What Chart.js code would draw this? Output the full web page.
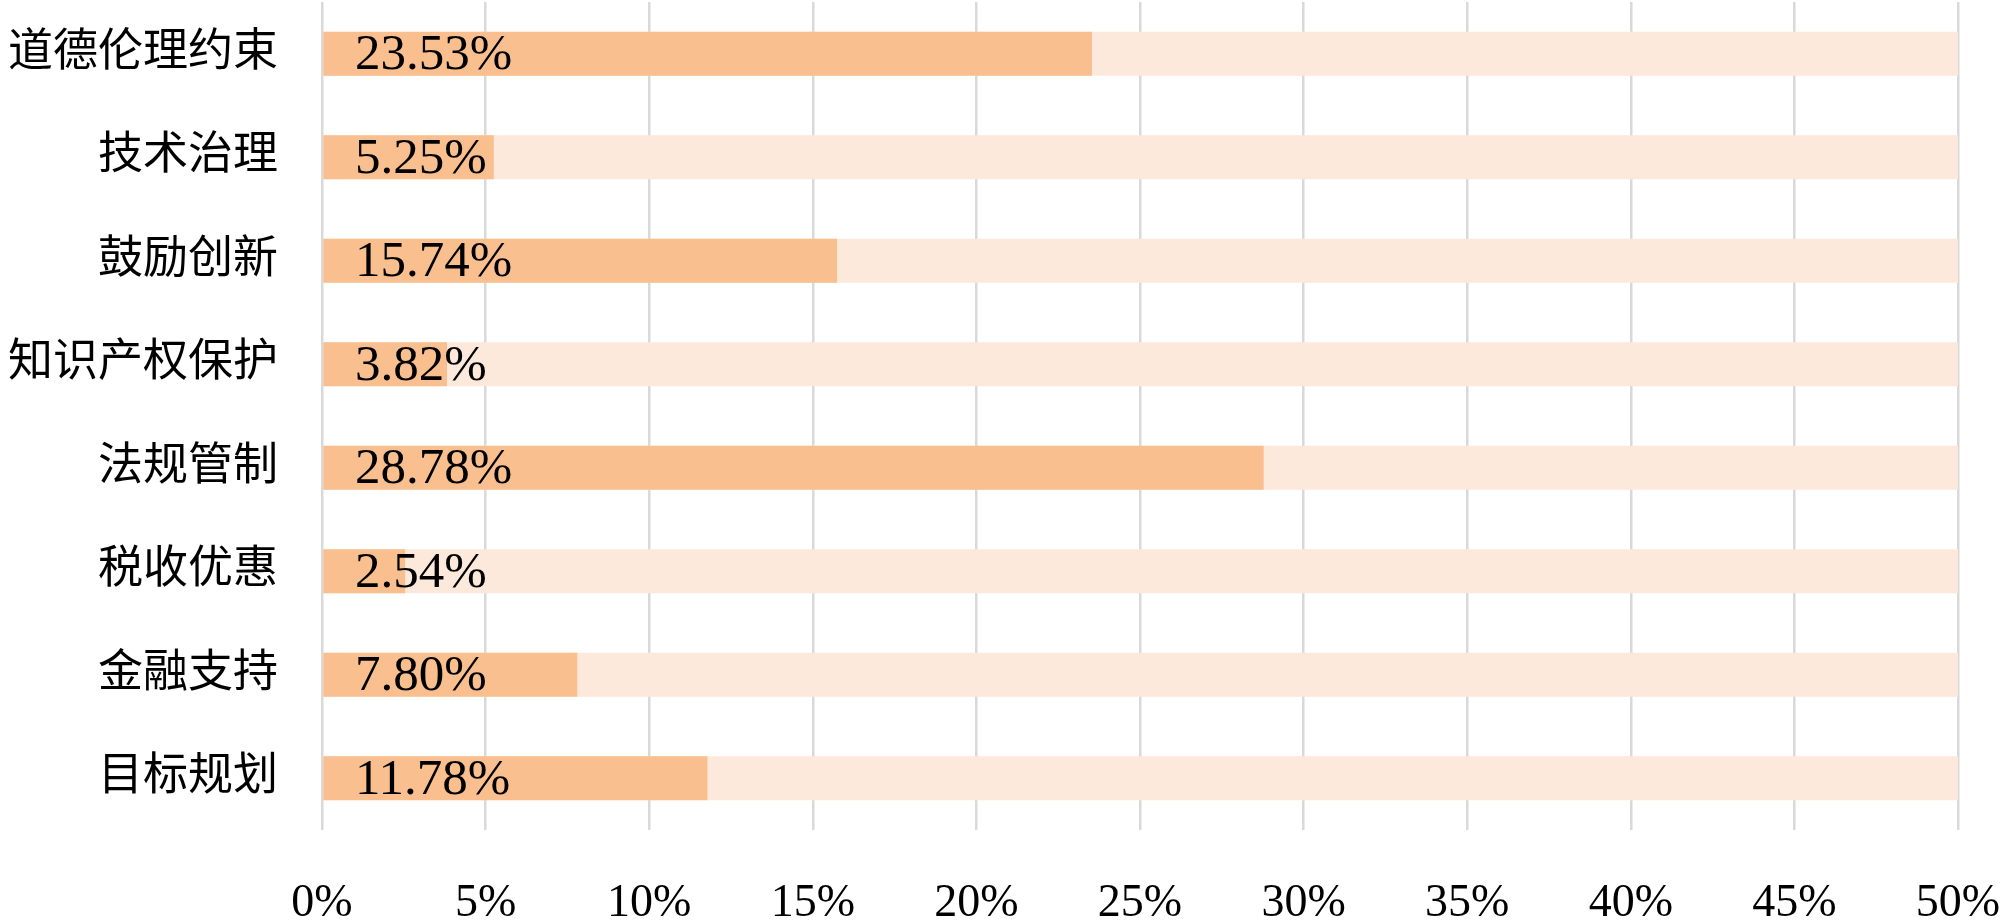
<!DOCTYPE html>
<html>
<head>
<meta charset="utf-8">
<script src="https://cdn.jsdelivr.net/npm/chart.js@4/dist/chart.umd.min.js"></script>
<style>
  html, body { margin: 0; padding: 0; background: #ffffff; }
  #wrap { width: 2000px; height: 924px; }
</style>
</head>
<body>
<div id="wrap"><canvas id="c" width="2000" height="924"></canvas></div>
<script>
const categories = ['道德伦理约束', '技术治理', '鼓励创新', '知识产权保护', '法规管制', '税收优惠', '金融支持', '目标规划'];
const shareValues = [23.53, 5.25, 15.74, 3.82, 28.78, 2.54, 7.80, 11.78];
const trackValues = [50, 50, 50, 50, 50, 50, 50, 50];
const tickValues = [0, 5, 10, 15, 20, 25, 30, 35, 40, 45, 50];

const SERIF = '"Liberation Serif", "Times New Roman", "Noto Sans CJK SC", serif';

const valueLabels = {
  id: 'valueLabels',
  afterDatasetsDraw(chart) {
    const ctx = chart.ctx;
    const meta = chart.getDatasetMeta(1);
    const x0 = chart.scales.x.getPixelForValue(0);
    ctx.save();
    ctx.font = '51px ' + SERIF;
    ctx.fillStyle = '#000000';
    ctx.textAlign = 'left';
    ctx.textBaseline = 'middle';
    meta.data.forEach((bar, i) => {
      ctx.fillText(shareValues[i].toFixed(2) + '%', x0 + 33, bar.y + 2);
    });
    ctx.restore();
  }
};

function zeroPad(scale) {
  scale.paddingTop = 0;
  scale.paddingBottom = 0;
  scale.paddingLeft = 0;
  scale.paddingRight = 0;
}

new Chart(document.getElementById('c'), {
  type: 'bar',
  data: {
    labels: categories,
    datasets: [
      {
        label: 'track',
        data: trackValues,
        backgroundColor: '#FDE9DB',
        borderWidth: 0,
        grouped: false,
        order: 2,
        barPercentage: 0.425,
        categoryPercentage: 1.0
      },
      {
        label: 'share',
        data: shareValues,
        backgroundColor: '#F9BF8F',
        borderWidth: 0,
        grouped: false,
        order: 1,
        barPercentage: 0.425,
        categoryPercentage: 1.0
      }
    ]
  },
  options: {
    indexAxis: 'y',
    responsive: false,
    animation: false,
    devicePixelRatio: 1,
    layout: { padding: { top: 2, right: 42, left: 0, bottom: 0 } },
    plugins: {
      legend: { display: false },
      tooltip: { enabled: false }
    },
    scales: {
      x: {
        min: 0,
        max: 50,
        afterBuildTicks(scale) {
          scale.ticks = tickValues.map(v => ({ value: v }));
        },
        afterFit(scale) { scale.height = 94; zeroPad(scale); },
        grid: {
          color: '#D9D9D9',
          lineWidth: 2.5,
          drawTicks: false
        },
        border: { display: false },
        ticks: {
          padding: 46,
          color: '#000000',
          font: { family: SERIF, size: 46 },
          maxRotation: 0,
          autoSkip: false,
          callback: (v) => v + '%'
        }
      },
      y: {
        afterFit(scale) { scale.width = 322; zeroPad(scale); },
        grid: { display: false, drawTicks: false },
        border: { display: false },
        ticks: {
          padding: 44,
          color: '#000000',
          font: { family: SERIF, size: 45 },
          autoSkip: false
        }
      }
    }
  },
  plugins: [valueLabels]
});
</script>
</body>
</html>
